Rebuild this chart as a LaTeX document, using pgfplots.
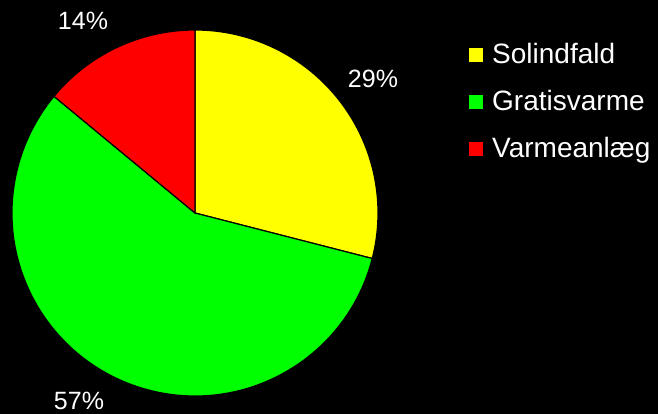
\documentclass[border=0pt]{standalone}
\usepackage{pgfplots}
\pgfplotsset{compat=1.18}
\usepackage{fontspec}
\setmainfont{Liberation Sans}
\definecolor{sol}{RGB}{255,255,0}
\definecolor{gratis}{RGB}{0,255,0}
\definecolor{anlaeg}{RGB}{255,0,0}
\begin{document}
\begin{tikzpicture}
\begin{axis}[
  scale only axis,
  width=658pt, height=414pt,
  xmin=0, xmax=658, ymin=0, ymax=414,
  hide axis, clip=false,
  legend cell align=left,
  legend image code/.code={\path[draw=none] (0pt,-7pt) rectangle (14pt,7pt);},
  legend style={draw=none, fill=none, text=white,
    font=\fontsize{28}{30}\selectfont,
    at={(axis cs:469,372)}, anchor=north west,
    inner sep=0pt, column sep=9pt, row sep=21pt,
    nodes={inner sep=0pt, text height=21pt, text depth=5pt}},
]
\coordinate (ll) at (axis cs:0,0);
\coordinate (ur) at (axis cs:658,414);
\fill[black] (axis cs:0,0) rectangle (axis cs:658,414);

% slices: share in percent, colour
\def\cx{195}\def\cy{201}\def\R{183}
\def\start{90}
\pgfplotsforeachungrouped \v/\c in {29/sol, 57/gratis, 14/anlaeg}{
  \pgfmathsetmacro\stop{\start-3.6*\v}
  \edef\temp{\noexpand\filldraw[fill=\c, draw=black, line width=1.2pt]
    (axis cs:\cx,\cy) -- ++(\start:\R pt)
    arc[start angle=\start, end angle=\stop, radius=\R pt] -- cycle;}
  \temp
  \global\let\start\stop
}

\addlegendimage{fill=sol}
\addlegendentry{Solindfald}
\addlegendimage{fill=gratis}
\addlegendentry{Gratisvarme}
\addlegendimage{fill=anlaeg}
\addlegendentry{Varmeanlæg}

\begin{scope}[every node/.style={text=white, anchor=base, inner sep=0pt,
    font=\fontsize{25}{28}\selectfont}]
\node at (axis cs:373,326) {29\%};
\node at (axis cs:83,384) {14\%};
\node at (axis cs:79,4) {57\%};
\end{scope}
\end{axis}
\pgfresetboundingbox
\useasboundingbox (ll) rectangle (ur);
\end{tikzpicture}
\end{document}
